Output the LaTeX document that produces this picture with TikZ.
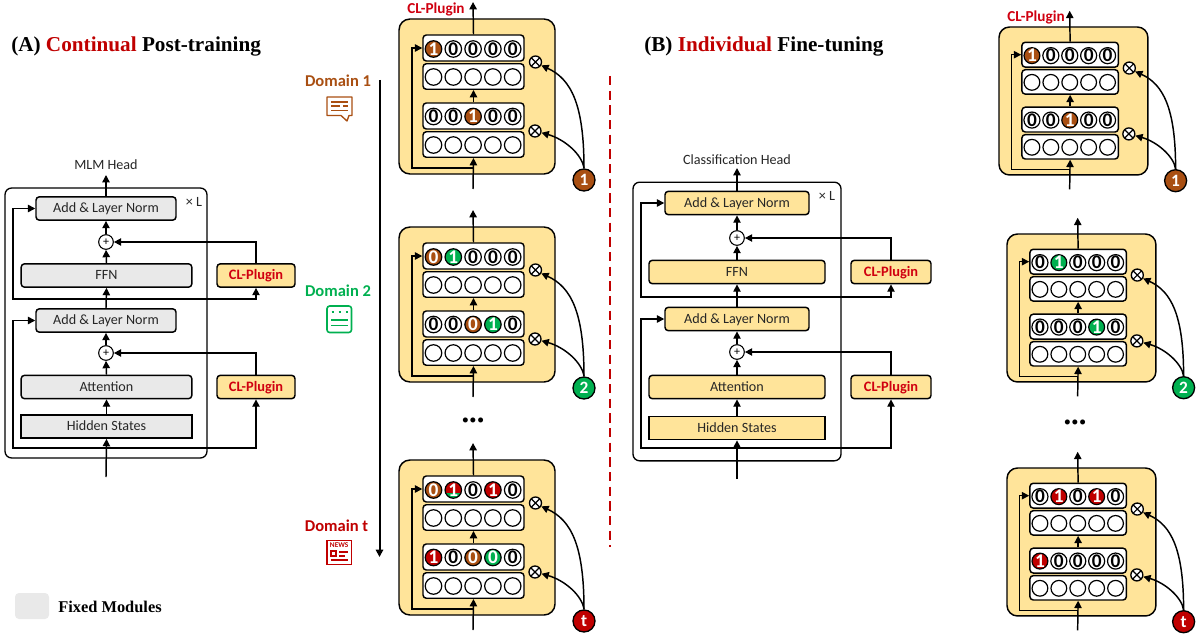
\documentclass[tikz,border=0pt]{standalone}
\usepackage{fontspec}
\setmainfont{Liberation Serif}
\newfontfamily\carl{Carlito}
\usetikzlibrary{arrows.meta}
\definecolor{panelc}{HTML}{FFE49A}
\definecolor{fixedc}{HTML}{E9E9E9}
\definecolor{dbrown}{HTML}{A94F12}
\definecolor{dgreen}{HTML}{00B050}
\definecolor{dred}{HTML}{C00000}
\definecolor{labelc}{HTML}{262626}
\definecolor{clred}{HTML}{D00010}
\tikzset{
  conn/.style={draw=black,line width=1.1pt,-{Triangle[length=5.5pt,width=5.5pt]}},
  plain/.style={draw=black,line width=1pt},
  lab/.style={font=\carl\fontsize{10.6}{12}\selectfont,text=labelc,inner sep=0pt},
  modbox/.style={draw=black,line width=1.1pt,rounded corners=2.5pt,lab,minimum height=17.5pt,inner sep=0pt,text height=8.7pt,text depth=2.2pt},
  fixedm/.style={modbox,fill=fixedc},
  trainm/.style={modbox,fill=panelc},
  sharp/.style={rounded corners=0pt},
  clbox/.style={modbox,fill=panelc,font=\carl\bfseries\fontsize{10.8}{12}\selectfont,text=clred},
  outerbox/.style={draw=black,line width=1pt,rounded corners=5pt,inner sep=0pt},
  plusn/.style={circle,draw=black,fill=white,line width=.8pt,minimum size=11pt,inner sep=0pt,font=\carl\fontsize{9}{9}\selectfont},
  otimesn/.style={circle,draw=black,fill=white,line width=1pt,minimum size=9pt,inner sep=0pt,
    path picture={\draw[line width=.9pt] (path picture bounding box.north west)--(path picture bounding box.south east)
      (path picture bounding box.north east)--(path picture bounding box.south west);}},
  rowbox/.style={draw=black,line width=1.1pt,fill=white,rounded corners=2.5pt,inner sep=0pt},
  bitbase/.style={circle,draw=black,line width=.9pt,inner sep=0pt,font=\carl\bfseries\fontsize{14.5}{14.5}\selectfont},
  bitplain/.style={bitbase,fill=white,text=black},
  bitbrown/.style={bitbase,fill=dbrown,text=white},
  bitgreen/.style={bitbase,fill=dgreen,text=white},
  bitred/.style={bitbase,fill=dred,text=white},
  bitmix/.style={bitbase,fill=dred,text=white,path picture={\fill[dgreen] (path picture bounding box.south west) rectangle ([yshift=-2.2pt]path picture bounding box.east);}},
  keyn/.style={circle,draw=black,line width=1pt,minimum size=16.5pt,inner sep=0pt,text=white,font=\carl\bfseries\fontsize{13}{13}\selectfont},
  domlab/.style={font=\carl\bfseries\fontsize{12.4}{14}\selectfont,inner sep=0pt},
  titlen/.style={font=\bfseries\fontsize{15.9}{18}\selectfont,inner sep=0pt,anchor=west},
  cltag/.style={font=\carl\bfseries\fontsize{11.4}{13}\selectfont,text=clred,inner sep=0pt},
  dotsn/.style={font=\bfseries\fontsize{23}{23}\selectfont,inner sep=0pt},
}
% #1 prefix, #2 x, #3 y, #4 unit (pt per px), #5 row 1 bits, #6 row 3 bits, #7 key text, #8 key colour
\newcommand{\plugin}[8]{%
\begin{scope}[shift={(#2,#3)},x=#4pt,y=-#4pt]
  \node[draw=black,line width=1.1pt,fill=panelc,rounded corners=#4*11pt,inner sep=0pt,minimum width=156*#4pt,minimum height=155*#4pt] (#1p) at (78,77.5) {};
  \node[rowbox,minimum width=101*#4pt,minimum height=26*#4pt] (#1r1) at (74.5,29) {};
  \node[rowbox,minimum width=101*#4pt,minimum height=25.5*#4pt] (#1r2) at (74.5,57.5) {};
  \node[rowbox,minimum width=101*#4pt,minimum height=26*#4pt] (#1r3) at (74.5,97) {};
  \node[rowbox,minimum width=101*#4pt,minimum height=25.5*#4pt] (#1r4) at (74.5,125.5) {};
  \foreach \d/\s [count=\i] in {#5} {\node[\s,minimum size=16.5*#4pt] (#1a\i) at ({34.5+(\i-1)*19.8},30) {\d};}
  \foreach \d/\s [count=\i] in {#6} {\node[\s,minimum size=16.5*#4pt] (#1c\i) at ({34.5+(\i-1)*19.8},97.5) {\d};}
  \foreach \i in {1,...,5} {
    \node[bitplain,minimum size=16.5*#4pt] (#1b\i) at ({34.5+(\i-1)*19.8},58) {};
    \node[bitplain,minimum size=16.5*#4pt] (#1d\i) at ({34.5+(\i-1)*19.8},126) {};
  }
  \node[otimesn] (#1x1) at (136.5,43) {};
  \node[otimesn] (#1x2) at (136,112) {};
  \node[keyn,fill=#8] (#1k) at (185,161) {#7};
  \coordinate (#1in) at (74,170);
  \coordinate (#1out) at (74,-17);
  \coordinate (#1br) at (74,149);
  \coordinate (#1left) at (13,149);
  \draw[conn] (#1in) -- (#1r4.south);
  \draw[conn] (#1r3.north) -- (#1r2.south);
  \draw[conn] (#1r1.north) -- (#1out);
  \draw[conn] (#1br) -- (#1left) |- (#1r1.west);
  \draw[conn] (#1k.north) .. controls (185,85) and (172,60) .. (#1x1.-30);
  \draw[conn] (#1k.north) .. controls (183,135) and (165,120) .. (#1x2.-15);
\end{scope}}
\begin{document}
\begin{tikzpicture}[x=.75pt,y=-.75pt]
\useasboundingbox (0,0) rectangle (1199,635);
\fill[white] (0,0) rectangle (1199,635);
% titles
\node[titlen] (titleA) at (11,46) {(A) \textcolor{dred}{Continual} Post-training};
\node[titlen] (titleB) at (644,46) {(B) \textcolor{dred}{Individual} Fine-tuning};
% legend
\node[fill=fixedc,rounded corners=3pt,minimum width=25.5pt,minimum height=19.5pt,inner sep=0pt] (legbox) at (32,606) {};
\node[font=\bfseries\fontsize{12.3}{14}\selectfont,inner sep=0pt,anchor=west] (legtext) at (58,606.5) {Fixed Modules};
% left transformer (A)
\node[outerbox,minimum width=151.5pt,minimum height=202.5pt] (aOuter) at (106,323) {};
\node[lab] (aX) at (194,202) {× L};
\node[lab] (aHeadT) at (106,164.5) {MLM Head};
\node[fixedm,minimum width=105pt] (aAdd2) at (106,208.5) {Add \& Layer Norm};
\node[fixedm,minimum width=128pt] (aFFN) at (106.5,275.5) {FFN};
\node[fixedm,minimum width=105pt] (aAdd1) at (106,320.5) {Add \& Layer Norm};
\node[fixedm,minimum width=128pt] (aAtt) at (106.5,387) {Attention};
\node[fixedm,sharp,minimum width=128pt] (aHid) at (106.5,426.5) {Hidden States};
\node[plusn] (aP2) at (106,242) {+};
\node[plusn] (aP1) at (106,353) {+};
\node[clbox,minimum width=58.5pt] (aPl2) at (256,275.5) {CL-Plugin};
\node[clbox,minimum width=58.5pt] (aPl1) at (256,387) {CL-Plugin};
\coordinate (aIn) at (106,477);
\coordinate (aHead) at (106,175);
\coordinate (aB1) at (106,448);
\coordinate (aL1) at (13,448);
\coordinate (aB2) at (106,299);
\coordinate (aL2) at (13,299);
\draw[conn] (aIn) -- (aHid.south);
\draw[conn] (aHid.north) -- (aAtt.south);
\draw[conn] (aAtt.north) -- (aP1.south);
\draw[conn] (aP1.north) -- (aAdd1.south);
\draw[conn] (aAdd1.north) -- (aFFN.south);
\draw[conn] (aFFN.north) -- (aP2.south);
\draw[conn] (aP2.north) -- (aAdd2.south);
\draw[conn] (aAdd2.north) -- (aHead);
\draw[conn] (aB1) -- (aL1) |- (aAdd1.west);
\draw[conn] (aB1) -| (aPl1.south);
\draw[conn] (aB2) -- (aL2) |- (aAdd2.west);
\draw[conn] (aB2) -| (aPl2.south);
\draw[conn] (aPl1.north) |- (aP1.east);
\draw[conn] (aPl2.north) |- (aP2.east);
% domain column
\node[domlab,text=dbrown] (dom1) at (338,81) {Domain 1};
\node[domlab,text=dgreen] (dom2) at (338,291) {Domain 2};
\node[domlab,text=dred] (domt) at (336.5,526) {Domain t};
\draw[dbrown,line width=1pt,line join=round] (327,97) -- (352,97) -- (352,115.5) -- (349,115.5) -- (347,121) -- (341,115.5) -- (327,115.5) -- cycle;
\draw[dbrown,line width=1pt] (331,102) -- (348,102) (331,106) -- (340,106) (343,106) -- (348,106) (331,110.5) -- (348,110.5);
\draw[dgreen,line width=1.2pt,rounded corners=2pt] (327,306) rectangle (351.5,332.5);
\draw[dgreen,line width=1.1pt] (331,320) -- (347.5,320) (331,325.5) -- (347.5,325.5);
\draw[dgreen,line width=1.4pt,dash pattern=on 1.6pt off 3.8pt] (331.5,312) -- (348,312);
\draw[dred,line width=1.2pt] (327,540.5) rectangle (351.5,564.5);
\node[font=\carl\bfseries\fontsize{5.5}{5.5}\selectfont,text=dred,inner sep=0pt] (newsT) at (339.2,545.5) {NEWS};
\draw[dred,line width=.9pt] (331,551) rectangle (336,556) (339,552) -- (348,552) (339,556) -- (345,556) (331,560) -- (348,560);
\coordinate (tlTop) at (379.5,80);
\coordinate (tlBot) at (379.5,557);
\draw[conn,line width=1.5pt] (tlTop) -- (tlBot);
% plugins of (A)
\plugin{u}{399}{19}{.75}{1/bitbrown,0/bitplain,0/bitplain,0/bitplain,0/bitplain}{0/bitplain,0/bitplain,1/bitbrown,0/bitplain,0/bitplain}{1}{dbrown}
\plugin{v}{399}{227}{.75}{0/bitbrown,1/bitgreen,0/bitplain,0/bitplain,0/bitplain}{0/bitplain,0/bitplain,0/bitbrown,1/bitgreen,0/bitplain}{2}{dgreen}
\plugin{w}{399}{460}{.75}{0/bitbrown,1/bitmix,0/bitplain,1/bitred,0/bitplain}{1/bitred,0/bitplain,0/bitbrown,0/bitgreen,0/bitplain}{t}{dred}
\node[cltag] (tagA) at (436,9) {CL-Plugin};
\node[dotsn] (dotsA) at (473,420) {...};
% separator
\coordinate (sepT) at (609.5,76);
\coordinate (sepB) at (609.5,547);
\draw[dred,line width=1.5pt,dash pattern=on 7pt off 4pt] (sepT) -- (sepB);
% transformer (B)
\node[outerbox,minimum width=156pt,minimum height=209pt] (bOuter) at (737,321.5) {};
\node[lab] (bX) at (827,196) {× L};
\node[lab] (bHeadT) at (737,159.5) {Classification Head};
\node[trainm,minimum width=108pt] (bAdd2) at (737,203) {Add \& Layer Norm};
\node[trainm,minimum width=132pt] (bFFN) at (737,272) {FFN};
\node[trainm,minimum width=108pt] (bAdd1) at (737,319) {Add \& Layer Norm};
\node[trainm,minimum width=132pt] (bAtt) at (737,387) {Attention};
\node[trainm,sharp,minimum width=132pt] (bHid) at (737,428) {Hidden States};
\node[plusn] (bP2) at (737,238) {+};
\node[plusn] (bP1) at (737,352) {+};
\node[clbox,minimum width=60pt] (bPl2) at (891,272) {CL-Plugin};
\node[clbox,minimum width=60pt] (bPl1) at (891,387) {CL-Plugin};
\coordinate (bIn) at (737,479);
\coordinate (bHead) at (737,168);
\coordinate (bB1) at (737,448);
\coordinate (bL1) at (641,448);
\coordinate (bB2) at (737,297);
\coordinate (bL2) at (641,297);
\draw[conn] (bIn) -- (bHid.south);
\draw[conn] (bHid.north) -- (bAtt.south);
\draw[conn] (bAtt.north) -- (bP1.south);
\draw[conn] (bP1.north) -- (bAdd1.south);
\draw[conn] (bAdd1.north) -- (bFFN.south);
\draw[conn] (bFFN.north) -- (bP2.south);
\draw[conn] (bP2.north) -- (bAdd2.south);
\draw[conn] (bAdd2.north) -- (bHead);
\draw[conn] (bB1) -- (bL1) |- (bAdd1.west);
\draw[conn] (bB1) -| (bPl1.south);
\draw[conn] (bB2) -- (bL2) |- (bAdd2.west);
\draw[conn] (bB2) -| (bPl2.south);
\draw[conn] (bPl1.north) |- (bP1.east);
\draw[conn] (bPl2.north) |- (bP2.east);
% plugins of (B)
\plugin{x}{999}{27}{.716}{1/bitbrown,0/bitplain,0/bitplain,0/bitplain,0/bitplain}{0/bitplain,0/bitplain,1/bitbrown,0/bitplain,0/bitplain}{1}{dbrown}
\plugin{y}{1007}{234}{.716}{0/bitplain,1/bitgreen,0/bitplain,0/bitplain,0/bitplain}{0/bitplain,0/bitplain,0/bitplain,1/bitgreen,0/bitplain}{2}{dgreen}
\plugin{z}{1007}{468}{.716}{0/bitplain,1/bitred,0/bitplain,1/bitred,0/bitplain}{1/bitred,0/bitplain,0/bitplain,0/bitplain,0/bitplain}{t}{dred}
\node[cltag] (tagB) at (1036,17) {CL-Plugin};
\node[dotsn] (dotsB) at (1075,422) {...};
\end{tikzpicture}
\end{document}
